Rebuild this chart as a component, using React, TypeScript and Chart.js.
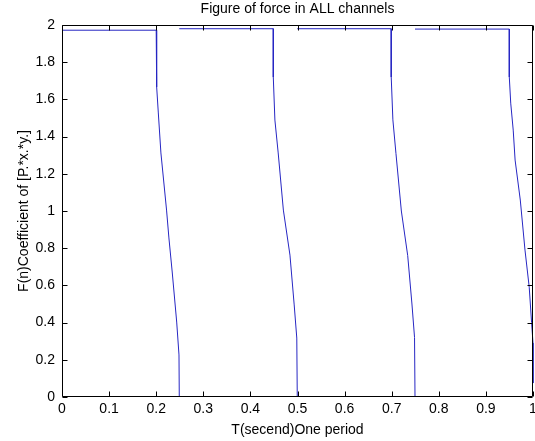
import React, { useEffect, useRef } from "react";
import { Chart, registerables } from "chart.js";

Chart.register(...registerables);

// ---- data ----
const seg1X = [0, 0.2, 0.201, 0.2045, 0.21, 0.222, 0.227, 0.234, 0.2435, 0.2484, 0.249];
const seg1Y = [1.972, 1.972, 1.667, 1.527, 1.312, 1.005, 0.855, 0.672, 0.403, 0.226, 0];

const seg2X = [0.249, 0.4486, 0.4486, 0.452, 0.459, 0.47, 0.484, 0.493, 0.4985, 0.4995];
const seg2Y = [1.98, 1.98, 1.72, 1.489, 1.312, 1.005, 0.763, 0.495, 0.317, 0];

const seg3X = [0.4995, 0.699, 0.699, 0.7025, 0.709, 0.7205, 0.734, 0.743, 0.7485, 0.7495];
const seg3Y = [1.98, 1.98, 1.72, 1.49, 1.31, 1.0, 0.76, 0.5, 0.32, 0];

const seg4X = [0.7495, 0.9497, 0.9497, 0.9527, 0.958, 0.962, 0.973, 0.983, 0.992, 0.997, 1.0, 1.0];
const seg4Y = [1.978, 1.978, 1.72, 1.58, 1.435, 1.274, 1.059, 0.79, 0.59, 0.4, 0.29, 0.075];

const xTickValues = [0, 0.1, 0.2, 0.3, 0.4, 0.5, 0.6, 0.7, 0.8, 0.9, 1];
const xTickLabels = ["0", "0.1", "0.2", "0.3", "0.4", "0.5", "0.6", "0.7", "0.8", "0.9", "1"];
const yTickValues = [0, 0.2, 0.4, 0.6, 0.8, 1, 1.2, 1.4, 1.6, 1.8, 2];
const yTickLabels = ["0", "0.2", "0.4", "0.6", "0.8", "1", "1.2", "1.4", "1.6", "1.8", "2"];

const titleText = "Figure of force in ALL channels";
const xTitle = "T(secend)One period";
const yTitle = "F(n)Coefficient of [P.*x.*y.]";

const LINE_COLOR = "rgb(38,38,195)";
const FONT = "'Liberation Sans', Arial, Helvetica, sans-serif";
const FS = 14;

const toPts = (xs: number[], ys: number[]) => xs.map((x, i) => ({ x, y: ys[i] }));

const framePlugin = {
  id: "matlabFrame",
  afterDraw(chart: any) {
    const { ctx, chartArea } = chart;
    const { left, right, top, bottom } = chartArea;
    const xs = chart.scales.x;
    const ys = chart.scales.y;
    const tl = 5;
    ctx.save();
    ctx.strokeStyle = "#000";
    ctx.lineWidth = 1;
    ctx.beginPath();
    const L = Math.round(left) + 0.5;
    const R = Math.round(right) - 0.5;
    const T = Math.round(top) + 0.5;
    const B = Math.round(bottom) - 0.5;
    ctx.rect(L, T, R - L, B - T);
    xs.ticks.forEach((t: any) => {
      const px = Math.round(xs.getPixelForValue(t.value)) + 0.5;
      ctx.moveTo(px, B);
      ctx.lineTo(px, B - tl);
      ctx.moveTo(px, T);
      ctx.lineTo(px, T + tl);
    });
    ys.ticks.forEach((t: any) => {
      const py = Math.round(ys.getPixelForValue(t.value)) + 0.5;
      ctx.moveTo(L, py);
      ctx.lineTo(L + tl, py);
      ctx.moveTo(R, py);
      ctx.lineTo(R - tl, py);
    });
    ctx.stroke();
    ctx.restore();
  },
};

export default function App() {
  const ref = useRef<HTMLCanvasElement | null>(null);

  useEffect(() => {
    if (!ref.current) return;
    const mk = (xs: number[], ys: number[]) => ({
      data: toPts(xs, ys),
      showLine: true,
      borderColor: LINE_COLOR,
      backgroundColor: LINE_COLOR,
      borderWidth: 1,
      pointRadius: 0,
      tension: 0,
      clip: 3,
    });
    const chart = new Chart(ref.current, {
      type: "scatter",
      data: {
        datasets: [mk(seg1X, seg1Y), mk(seg2X, seg2Y), mk(seg3X, seg3Y), mk(seg4X, seg4Y)],
      },
      options: {
        responsive: false,
        animation: false,
        devicePixelRatio: 1,
        layout: { padding: { left: 0, right: 2, top: 0, bottom: 0 } },
        plugins: {
          legend: { display: false },
          tooltip: { enabled: false },
          title: {
            display: true,
            fullSize: false,
            text: titleText,
            color: "#000",
            font: { family: FONT, size: FS, weight: "normal" },
            padding: { top: 1, bottom: 7.2 },
          },
        },
        scales: {
          x: {
            type: "linear",
            min: 0,
            max: 1,
            afterBuildTicks: (s: any) => {
              s.ticks = xTickValues.map((v) => ({ value: v }));
            },
            afterFit: (s: any) => {
              s.height = 44;
              s.paddingLeft = 0;
              s.paddingRight = 0;
            },
            grid: { display: false, drawTicks: false },
            border: { display: false },
            ticks: {
              autoSkip: false,
              maxRotation: 0,
              padding: 3.6,
              color: "#000",
              font: { family: FONT, size: FS },
              callback: (_v: any, i: number) => xTickLabels[i],
            },
            title: {
              display: true,
              text: xTitle,
              color: "#000",
              font: { family: FONT, size: FS },
              padding: { top: 0, bottom: 2.6 },
            },
          },
          y: {
            type: "linear",
            min: 0,
            max: 2,
            afterBuildTicks: (s: any) => {
              s.ticks = yTickValues.map((v) => ({ value: v }));
            },
            afterFit: (s: any) => {
              s.width = 62;
              s.paddingTop = 0;
              s.paddingBottom = 0;
            },
            grid: { display: false, drawTicks: false },
            border: { display: false },
            ticks: {
              autoSkip: false,
              padding: 7,
              color: "#000",
              font: { family: FONT, size: FS },
              callback: (_v: any, i: number) => yTickLabels[i],
            },
            title: {
              display: true,
              text: yTitle,
              color: "#000",
              font: { family: FONT, size: FS },
              padding: { top: 15.6, bottom: 0 },
            },
          },
        },
      },
      plugins: [framePlugin],
    } as any);
    return () => chart.destroy();
  }, []);

  return (
    <div style={{ position: "fixed", left: 0, top: 0, width: 535, height: 441, background: "#fff" }}>
      <canvas ref={ref} width={535} height={441} style={{ display: "block" }} />
    </div>
  );
}
